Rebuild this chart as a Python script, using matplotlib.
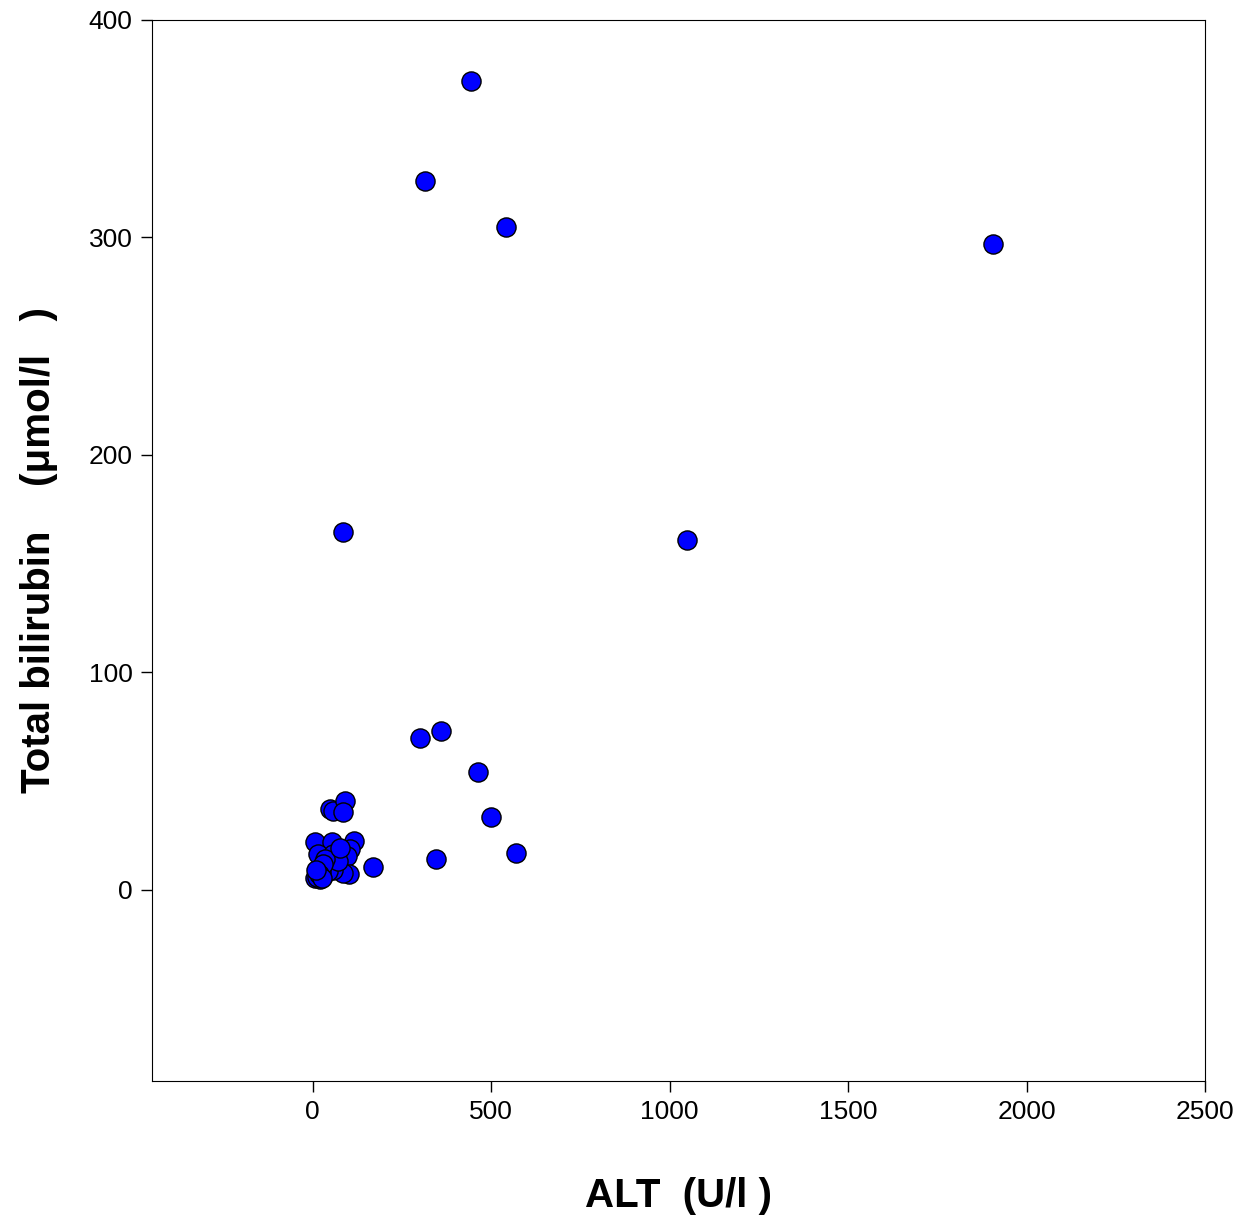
import matplotlib
matplotlib.use("Agg")
import matplotlib.pyplot as plt

plt.rcParams['font.family'] = ['Liberation Sans', 'DejaVu Sans']

# ALT (U/l) and total bilirubin (umol/l)
alt = [443, 314, 543, 1907, 84, 1050, 302, 361, 462, 499, 569, 345, 168,
       6, 53, 115, 14, 104, 95, 56, 101, 84, 56, 34, 20, 11, 6, 20, 28, 42,
       48, 56, 92, 84, 70, 36, 76, 16, 24, 30, 12, 18, 26, 9]
bili = [372, 326, 305, 297, 164.5, 161, 69.6, 73, 54, 33.6, 17, 14.3, 10.6,
        21.7, 22, 22.6, 16.6, 18.9, 15.7, 16.6, 7.4, 7.8, 9.2, 11, 10.1, 7.4,
        5.5, 5.1, 6.5, 8.8, 37.3, 36.4, 40.6, 35.5, 13, 14, 19, 9, 8, 12,
        6, 7, 5.5, 9]

fig = plt.figure(figsize=(12.5, 12.18), dpi=100)
ax = fig.add_axes([0.1216, 0.1125, 0.8424, 0.8711])

ax.scatter(alt, bili, s=190, c='#0000ff', edgecolors='black', linewidths=1, zorder=3)

ax.set_xlim(-450, 2500)
ax.set_ylim(-88, 400)
ax.set_xticks([0, 500, 1000, 1500, 2000, 2500])
ax.set_yticks([0, 100, 200, 300, 400])
ax.tick_params(direction='out', length=8, width=1, labelsize=19, pad=6)

ax.set_xlabel("ALT  (U/l )", fontsize=29, fontweight='bold', labelpad=38)
ax.set_ylabel("Total bilirubin    (μmol/l   )", fontsize=29, fontweight='bold', labelpad=22)

fig.savefig("out.png", dpi=100)
